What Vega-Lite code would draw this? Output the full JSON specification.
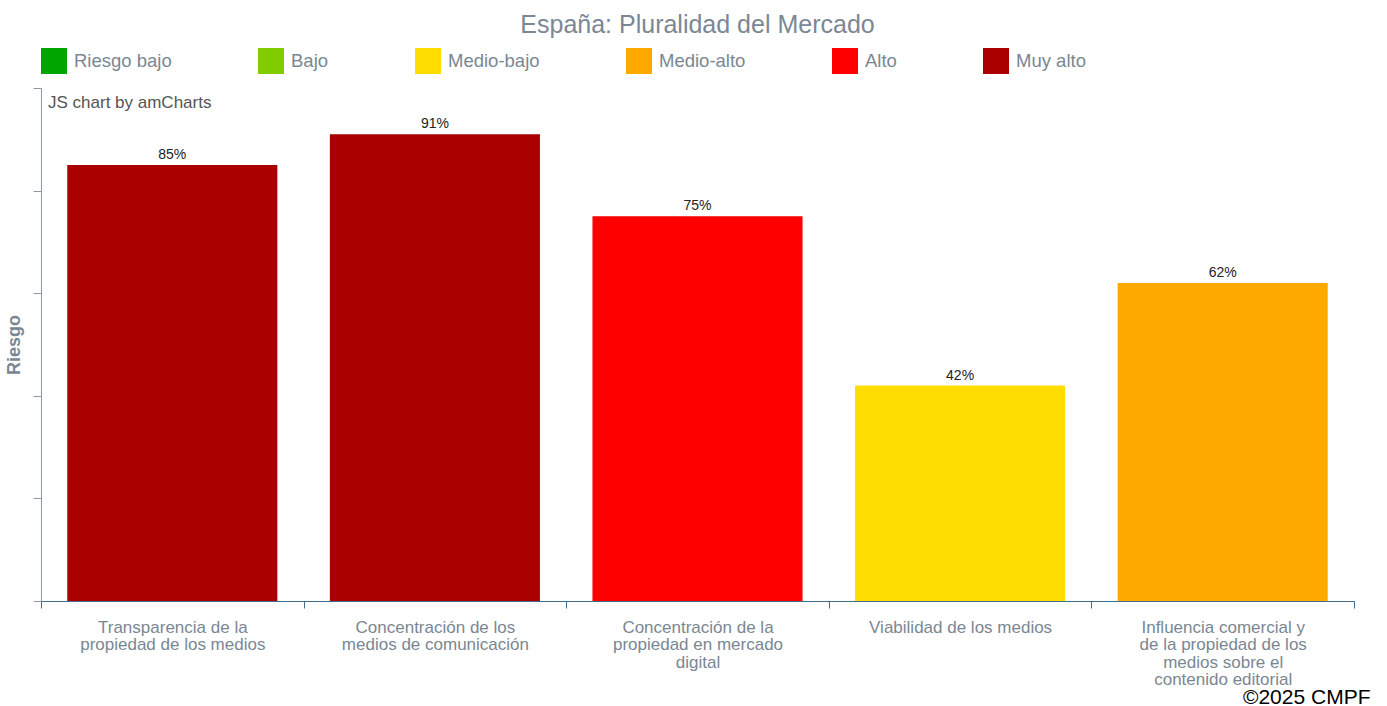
{
  "$schema": "https://vega.github.io/schema/vega-lite/v6.json",
  "width": 1313,
  "height": 513,
  "autosize": {"type": "none"},
  "padding": {"left": 41, "top": 88, "right": 33, "bottom": 105},
  "title": {
    "text": "España: Pluralidad del Mercado",
    "fontSize": 25,
    "font": "Liberation Sans",
    "fontWeight": "normal",
    "color": "#7b8794",
    "anchor": "middle",
    "offset": 10
  },
  "config": {
    "view": {"stroke": null},
    "font": "Liberation Sans"
  },
  "data": {
    "values": [
      {"area": "Transparencia de la\npropiedad de los medios", "value": 0.85, "risk": "Muy alto"},
      {"area": "Concentración de los\nmedios de comunicación", "value": 0.91, "risk": "Muy alto"},
      {"area": "Concentración de la\npropiedad en mercado\ndigital", "value": 0.75, "risk": "Alto"},
      {"area": "Viabilidad de los medios", "value": 0.42, "risk": "Medio-bajo"},
      {"area": "Influencia comercial y\nde la propiedad de los\nmedios sobre el\ncontenido editorial", "value": 0.62, "risk": "Medio-alto"}
    ]
  },
  "encoding": {
    "x": {
      "field": "area",
      "type": "nominal",
      "sort": null,
      "scale": {"paddingInner": 0, "paddingOuter": 0},
      "axis": {
        "title": "©2025 CMPF",
        "labelExpr": "split(datum.label, '\\n')",
        "labelAngle": 0,
        "labelLimit": 400,
        "tickBand": "extent",
        "domainColor": "#3f6e8c",
        "tickColor": "#3f6e8c",
        "tickSize": 7,
        "labelFontSize": 17,
        "labelColor": "#7a8793",
        "labelLineHeight": 17.6,
        "labelPadding": 11,
        "labelFont": "Liberation Sans",
        "titleAnchor": "end",
        "titleAlign": "right",
        "titleBaseline": "middle",
        "titleX": 1329,
        "titleY": 96,
        "titleColor": "#000000",
        "titleFontSize": 21,
        "titleFontWeight": "normal",
        "titleFont": "Liberation Sans"
      }
    },
    "y": {
      "field": "value",
      "type": "quantitative",
      "scale": {"domain": [0, 1], "nice": false},
      "axis": {
        "title": "Riesgo",
        "labels": false,
        "values": [0, 0.2, 0.4, 0.6, 0.8, 1],
        "grid": false,
        "domainColor": "#8a9aa6",
        "tickColor": "#8a9aa6",
        "tickSize": 8,
        "titleFontSize": 18,
        "titleFontWeight": "bold",
        "titleColor": "#7a8793",
        "titlePadding": 9,
        "titleFont": "Liberation Sans"
      }
    }
  },
  "layer": [
    {
      "mark": {"type": "bar", "width": {"band": 0.8}},
      "encoding": {
        "color": {
          "field": "risk",
          "type": "nominal",
          "scale": {
            "domain": ["Riesgo bajo", "Bajo", "Medio-bajo", "Medio-alto", "Alto", "Muy alto"],
            "range": ["#00a600", "#80cc00", "#ffdd00", "#ffa800", "#ff0000", "#aa0000"]
          },
          "legend": {
            "orient": "top",
            "direction": "horizontal",
            "title": null,
            "symbolType": "square",
            "symbolSize": 676,
            "symbolStrokeWidth": 0,
            "labelFontSize": 18.5,
            "labelColor": "#7a8793",
            "labelFont": "Liberation Sans",
            "columnPadding": 86,
            "labelOffset": 7,
            "offset": 14
          }
        }
      }
    },
    {
      "mark": {"type": "text", "baseline": "bottom", "dy": -3, "fontSize": 14, "fontWeight": "normal", "color": "#222222"},
      "encoding": {
        "text": {"field": "value", "type": "quantitative", "format": ".0%"}
      }
    },
    {
      "data": {"values": [{"note": "JS chart by amCharts", "area": "Transparencia de la\npropiedad de los medios", "value": 1}]},
      "mark": {"type": "text", "align": "left", "baseline": "middle", "dx": 7, "dy": 15, "fontSize": 17, "color": "#555555"},
      "encoding": {
        "x": {"field": "area", "type": "nominal", "sort": null, "bandPosition": 0},
        "text": {"field": "note"}
      }
    }
  ]
}
